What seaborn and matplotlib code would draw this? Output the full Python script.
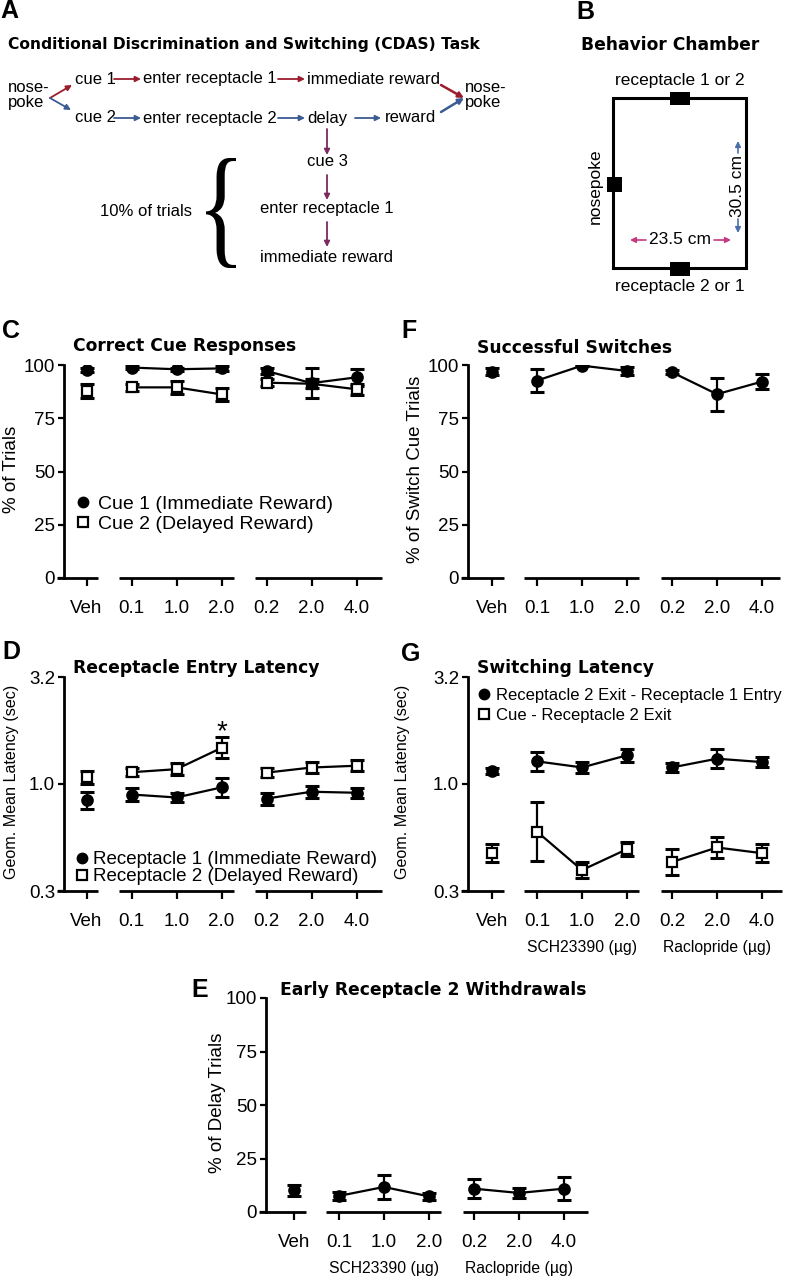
import numpy as np
import pandas as pd
import matplotlib
matplotlib.use("Agg")
import matplotlib.pyplot as plt
import seaborn as sns
from matplotlib.lines import Line2D
from matplotlib.patches import Rectangle, PathPatch
from matplotlib.textpath import TextPath
from matplotlib.font_manager import FontProperties
from matplotlib.transforms import Affine2D, blended_transform_factory
from matplotlib.ticker import NullLocator

# ---------------- data ----------------
doses = ["Veh", "0.1", "1.0", "2.0", "0.2", "2.0", "4.0"]
drug_group = ["Veh", "SCH23390", "SCH23390", "SCH23390",
              "Raclopride", "Raclopride", "Raclopride"]
group_labels = ["SCH23390 (\u00b5g)", "Raclopride (\u00b5g)"]

# C: correct cue responses (% of trials), mean and SEM
cue1_mean = [97.7, 98.8, 98.0, 98.4, 97.2, 91.5, 94.2]
cue1_sem = [1.0, 0.6, 0.6, 1.0, 1.2, 7.0, 3.9]
cue2_mean = [88.0, 89.5, 89.5, 86.2, 91.7, 91.2, 88.6]
cue2_sem = [3.3, 1.8, 3.0, 3.0, 1.5, 2.0, 2.6]

# F: successful switches (% of switch cue trials)
switch_mean = [96.9, 92.7, 99.7, 97.2, 96.6, 86.3, 92.2]
switch_sem = [1.5, 5.5, 0.4, 1.8, 1.0, 7.8, 3.4]

# E: early receptacle 2 withdrawals (% of delay trials)
withdraw_mean = [10.2, 7.5, 11.7, 7.3, 10.9, 8.9, 10.9]
withdraw_sem = [2.6, 2.0, 5.6, 1.5, 4.3, 2.5, 5.3]

# D: receptacle entry latency (geometric mean, sec) and multiplicative SEM factor
rec1_mean = [0.84, 0.893, 0.865, 0.964, 0.855, 0.92, 0.91]
rec1_fac = [1.095, 1.071, 1.052, 1.103, 1.067, 1.067, 1.056]
rec2_mean = [1.075, 1.135, 1.173, 1.475, 1.13, 1.194, 1.217]
rec2_fac = [1.075, 1.045, 1.064, 1.119, 1.048, 1.056, 1.06]

# G: switching latency (geometric mean, sec)
exit_entry_mean = [1.152, 1.276, 1.195, 1.362, 1.195, 1.313, 1.266]
exit_entry_fac = [1.03, 1.107, 1.056, 1.075, 1.052, 1.111, 1.056]
cue_exit_mean = [0.475, 0.599, 0.396, 0.496, 0.432, 0.505, 0.475]
cue_exit_fac = [1.099, 1.377, 1.091, 1.075, 1.156, 1.115, 1.099]

# ---------------- style ----------------
sns.set_theme(style="ticks")
plt.rcParams["font.family"] = ["Liberation Sans", "DejaVu Sans"]
for k in ["axes.edgecolor", "xtick.color", "ytick.color", "text.color", "axes.labelcolor"]:
    plt.rcParams[k] = "black"

W, H = 786, 1280
SP = 45.0  # pixels per category step
fig = plt.figure(figsize=(W / 100, H / 100), dpi=100)

over = fig.add_axes([0, 0, 1, 1])
over.set_xlim(0, W)
over.set_ylim(H, 0)
over.axis("off")

BOLD = dict(family="DejaVu Sans", weight="bold", fontsize=12.3)
LET = dict(family="Liberation Sans", weight="bold", fontsize=18)


def make_axes(yaxis_px, top_px, bottom_px, xl, xr):
    return fig.add_axes([yaxis_px / W, 1 - bottom_px / H,
                         (xr - xl) * SP / W, (bottom_px - top_px) / H])


def style(ax, xl, xr, ylim, yticks, yticklabels, ylabel, lab_x, lab_fs=13.5, log=False):
    if log:
        ax.set_yscale("log")
    ax.set_xlim(xl, xr)
    ax.set_ylim(*ylim)
    ax.set_yticks(yticks)
    ax.set_yticklabels(yticklabels)
    ax.yaxis.set_minor_locator(NullLocator())
    ax.set_xticks(range(len(doses)))
    ax.set_xticklabels(doses)
    for s in ["top", "right", "bottom"]:
        ax.spines[s].set_visible(False)
    ax.spines["left"].set_linewidth(2.0)
    ax.tick_params(axis="x", length=5.8, width=1.6, pad=10, labelsize=13.5)
    ax.tick_params(axis="y", length=4.5, width=1.6, pad=2, labelsize=13.5)
    ax.set_xlabel("")
    ax.set_ylabel(ylabel, fontsize=lab_fs)
    ax.yaxis.set_label_coords(lab_x, 0.51)
    tr = blended_transform_factory(ax.transData, ax.transAxes)
    for a, b in [(xl - 0.15, 0.26), (0.72, 3.27), (3.75, xr)]:
        ax.plot([a, b], [0, 0], transform=tr, color="black", lw=2.0,
                clip_on=False, solid_capstyle="butt")


def series(ax, mean, lo, hi, marker, face):
    df = pd.DataFrame({"pos": np.arange(len(doses)), "val": mean, "grp": drug_group})
    ax.errorbar(df["pos"], df["val"], yerr=[lo, hi], fmt="none", ecolor="black",
                elinewidth=1.6, capsize=5, capthick=2.2, zorder=2)
    sns.lineplot(data=df, x="pos", y="val", units="grp", estimator=None,
                 color="black", lw=1.6, marker=marker, markersize=7.5 if marker == "o" else 7,
                 markerfacecolor=face, markeredgecolor="black", markeredgewidth=1.6,
                 legend=False, ax=ax, zorder=3)


def lin(mean, sem):
    return list(sem), list(sem)


def logerr(mean, fac):
    m = np.array(mean)
    f = np.array(fac)
    return m - m / f, m * f - m


def legend(ax, labels, x_px, y_px, fs, hl, tp, ls):
    handles = [Line2D([], [], marker="o", ls="none", color="black", markersize=7.5),
               Line2D([], [], marker="s", ls="none", markerfacecolor="white",
                      markeredgecolor="black", markeredgewidth=1.6, markersize=6.5)]
    ax.legend(handles, labels, loc="upper left", bbox_to_anchor=(x_px / W, 1 - y_px / H),
              bbox_transform=fig.transFigure, frameon=False, fontsize=fs,
              handlelength=hl, handletextpad=tp, labelspacing=ls, borderpad=0,
              borderaxespad=0)


def group_names(ax):
    for xpos, lab in zip([2, 5], group_labels):
        ax.annotate(lab, xy=(xpos, 0), xycoords=("data", "axes fraction"),
                    xytext=(0, -40.5), textcoords="offset points",
                    ha="center", va="center", fontsize=11.3)


PCT_T = [0, 25, 50, 75, 100]
LOG_T = [10 ** -0.5, 1.0, 10 ** 0.5]
LOG_L = ["0.3", "1.0", "3.2"]

# ---- C ----
axC = make_axes(64, 365, 578, -0.5, 6.56)
series(axC, cue2_mean, *lin(cue2_mean, cue2_sem), "s", "white")
series(axC, cue1_mean, *lin(cue1_mean, cue1_sem), "o", "black")
style(axC, -0.5, 6.56, (0, 100), PCT_T, [str(t) for t in PCT_T], "% of Trials", -0.138)
legend(axC, ["Cue 1 (Immediate Reward)", "Cue 2 (Delayed Reward)"], 75, 495, 14, 0.8, 0.36, 0.15)

# ---- F ----
axF = make_axes(468, 365, 578, -0.533, 6.4)
series(axF, switch_mean, *lin(switch_mean, switch_sem), "o", "black")
style(axF, -0.533, 6.4, (0, 100), PCT_T, [str(t) for t in PCT_T], "% of Switch Cue Trials", -0.141)

# ---- D ----
axD = make_axes(64, 677, 891, -0.5, 6.56)
series(axD, rec2_mean, *logerr(rec2_mean, rec2_fac), "s", "white")
series(axD, rec1_mean, *logerr(rec1_mean, rec1_fac), "o", "black")
style(axD, -0.5, 6.56, (10 ** -0.5, 10 ** 0.5), LOG_T, LOG_L,
      "Geom. Mean Latency (sec)", -0.142, lab_fs=11.6, log=True)
legend(axD, ["Receptacle 1 (Immediate Reward)", "Receptacle 2 (Delayed Reward)"],
       76, 851, 13.5, 0.6, 0.3, 0.0)
axD.annotate("*", xy=(3, rec2_mean[3] * rec2_fac[3]), xytext=(0, 3.5),
             textcoords="offset points", ha="center", va="center", fontsize=20)

# ---- G ----
axG = make_axes(468, 677, 891, -0.533, 6.45)
series(axG, cue_exit_mean, *logerr(cue_exit_mean, cue_exit_fac), "s", "white")
series(axG, exit_entry_mean, *logerr(exit_entry_mean, exit_entry_fac), "o", "black")
style(axG, -0.533, 6.45, (10 ** -0.5, 10 ** 0.5), LOG_T, LOG_L,
      "Geom. Mean Latency (sec)", -0.186, lab_fs=11.6, log=True)
legend(axG, ["Receptacle 2 Exit - Receptacle 1 Entry", "Cue - Receptacle 2 Exit"],
       479, 688, 12, 0.6, 0.42, 0.28)
group_names(axG)

# ---- E ----
axE = make_axes(266, 998, 1212, -0.62, 6.53)
series(axE, withdraw_mean, *lin(withdraw_mean, withdraw_sem), "o", "black")
style(axE, -0.62, 6.53, (0, 100), PCT_T, [str(t) for t in PCT_T], "% of Delay Trials", -0.125)
group_names(axE)

# ---------------- titles / panel letters ----------------
for txt, x, y in [("Correct Cue Responses", 73, 346), ("Successful Switches", 477, 348),
                  ("Receptacle Entry Latency", 73, 668), ("Switching Latency", 477, 668),
                  ("Early Receptacle 2 Withdrawals", 280, 990)]:
    over.text(x, y, txt, ha="left", va="center", **BOLD)
over.text(8, 45, "Conditional Discrimination and Switching (CDAS) Task", ha="left",
          va="center", family="DejaVu Sans", weight="bold", fontsize=11.2)
over.text(670, 45, "Behavior Chamber", ha="center", va="center", **BOLD)
for txt, x, y in [("A", 0, 11), ("B", 576, 12), ("C", 2, 331), ("F", 401, 331),
                  ("D", 2, 652), ("G", 401, 654), ("E", 191, 990)]:
    over.text(x, y, txt, ha="left", va="center", **LET)

# ---------------- panel A diagram ----------------
RED, BLUE, PURP = "#9b1c2c", "#3b5b92", "#7b2a5f"
FS_A = 12


def arrow(x0, y0, x1, y1, c, lw=1.3):
    over.annotate("", xy=(x1, y1), xytext=(x0, y0),
                  arrowprops=dict(arrowstyle="-|>", color=c, lw=lw, mutation_scale=8,
                                  shrinkA=0, shrinkB=0))


for txt, x, y in [("nose-", 8, 88), ("poke", 8, 103), ("cue 1", 75, 79),
                  ("enter receptacle 1", 143, 79), ("immediate reward", 307, 79),
                  ("cue 2", 75, 118), ("enter receptacle 2", 143, 118), ("delay", 307, 118),
                  ("reward", 385, 118), ("nose-", 465, 88), ("poke", 465, 103),
                  ("10% of trials", 100, 211)]:
    over.text(x, y, txt, ha="left", va="center", fontsize=FS_A)
for txt, y in [("cue 3", 162), ("enter receptacle 1", 208), ("immediate reward", 257)]:
    over.text(327, y, txt, ha="center", va="center", fontsize=FS_A)

for x0, x1 in [(114, 141), (278, 305)]:
    arrow(x0, 79, x1, 79, RED)
for x0, x1 in [(114, 141), (278, 305), (355, 381)]:
    arrow(x0, 118, x1, 118, BLUE)
arrow(50, 98, 72, 85, RED)
arrow(50, 98, 71, 110, BLUE)
arrow(441, 85, 464, 98, RED, lw=1.8)
arrow(441, 112, 464, 98, BLUE, lw=1.8)
for y0, y1 in [(129, 155), (175, 200), (222, 247)]:
    arrow(327, y0, 327, y1, PURP)

# curly brace
tp = TextPath((0, 0), "{", size=100, prop=FontProperties(family="Liberation Serif"))
ext = tp.get_extents()
bx0, by0, bw, bh = 206, 158, 30, 110
brace_tr = (Affine2D().translate(-ext.x0, -ext.y0)
            .scale(bw / ext.width, -bh / ext.height).translate(bx0, by0 + bh))
over.add_patch(PathPatch(brace_tr.transform_path(tp), fc="black", ec="none"))

# ---------------- panel B diagram ----------------
FS_B = 12.5
over.add_patch(Rectangle((613, 98), 133, 170, fill=False, lw=2.2, ec="black"))
for (x, y, w, h) in [(670, 92, 20, 13), (670, 262, 20, 14), (607, 177, 15, 15)]:
    over.add_patch(Rectangle((x, y), w, h, fc="black", ec="none"))
over.text(680, 80, "receptacle 1 or 2", ha="center", va="center", fontsize=FS_B)
over.text(680, 287, "receptacle 2 or 1", ha="center", va="center", fontsize=FS_B)
over.text(595, 186, "nosepoke", ha="center", va="center", rotation=90, fontsize=FS_B)
over.text(680, 240, "23.5 cm", ha="center", va="center", fontsize=FS_B)
over.text(738, 186, "30.5 cm", ha="center", va="center", rotation=90, fontsize=FS_B)
MAG, BL2 = "#c43a7e", "#4b6fa8"
arrow(646, 240, 630, 240, MAG, lw=1.2)
arrow(714, 240, 731, 240, MAG, lw=1.2)
arrow(738, 153, 738, 141, BL2, lw=1.2)
arrow(738, 219, 738, 233, BL2, lw=1.2)

fig.savefig("out.png", dpi=100)
